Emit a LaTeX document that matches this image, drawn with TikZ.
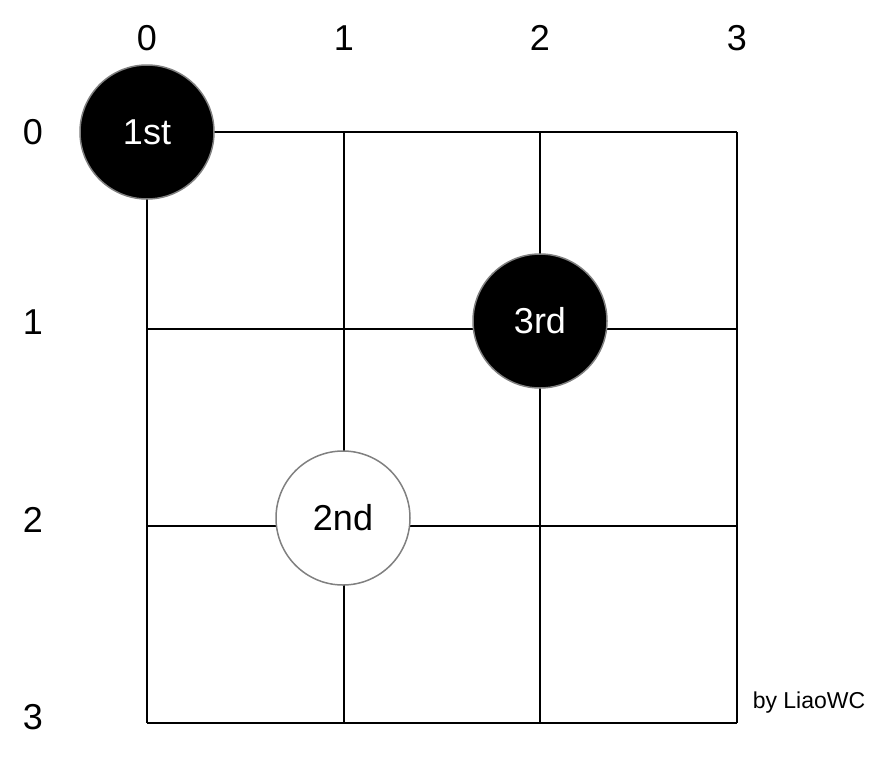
\documentclass[tikz,border=0pt]{standalone}
\usepackage{fontspec}
\setmainfont{Liberation Sans}
\begin{document}
\begin{tikzpicture}[x=1pt,y=-1pt,
  gridline/.style={line width=2pt,black},
  stone/.style={circle,minimum size=134pt,inner sep=0pt,draw={rgb,255:red,128;green,128;blue,128},line width=1.5pt,font=\fontsize{36}{40}\selectfont},
  blackstone/.style={stone,fill=black,text=white},
  whitestone/.style={stone,fill=white,text=black},
  axislabel/.style={font=\fontsize{36}{40}\selectfont,inner sep=0pt},
  credit/.style={font=\fontsize{23}{27}\selectfont,inner sep=0pt}]
\useasboundingbox (0,0) rectangle (881,761);
% grid
\foreach \v in {147,344,540,737}{
  \draw[gridline] (\v,132) -- (\v,723);
}
\foreach \v in {132,329,526,723}{
  \draw[gridline] (147,\v) -- (737,\v);
}
% axis labels
\node[axislabel] (c0) at (147,38) {0};
\node[axislabel] (c1) at (344,38) {1};
\node[axislabel] (c2) at (540,38) {2};
\node[axislabel] (c3) at (737,38) {3};
\node[axislabel] (r0) at (33,132) {0};
\node[axislabel] (r1) at (33,322) {1};
\node[axislabel] (r2) at (33,520) {2};
\node[axislabel] (r3) at (33,717) {3};
% stones
\node[blackstone] (s1) at (147,132) {1st};
\node[blackstone] (s3) at (540,321) {3rd};
\node[whitestone] (s2) at (343,518) {2nd};
% credit
\node[credit] (by) at (809,703) {by LiaoWC};
\end{tikzpicture}
\end{document}
